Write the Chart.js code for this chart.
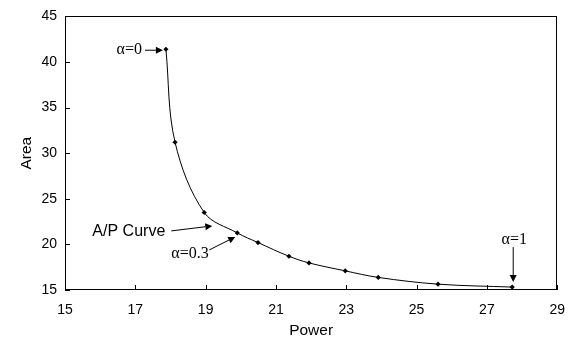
<!DOCTYPE html>
<html>
<head>
<meta charset="utf-8">
<script src="https://cdn.jsdelivr.net/npm/chart.js@4.4.1/dist/chart.umd.min.js"></script>
<style>
  html, body { margin: 0; padding: 0; background: #fff; }
  #box { width: 577px; height: 345px; }
</style>
</head>
<body>
<div id="box"><canvas id="grafico"></canvas></div>
<script>
// potenza e area per ogni valore di alpha
var potenza = [17.87, 18.13, 18.96, 19.9, 20.49, 21.37, 21.94, 22.97, 23.91, 25.61, 27.72];
var area = [41.4, 31.2, 23.5, 21.26, 20.2, 18.7, 17.97, 17.1, 16.38, 15.64, 15.32];

var tickX = [15, 17, 19, 21, 23, 25, 27, 29];
var tickY = [15, 20, 25, 30, 35, 40, 45];

var punti = [];
for (var i = 0; i < potenza.length; i++) {
    punti.push({ x: potenza[i], y: area[i] });
}

function freccia(ctx, x1, y1, x2, y2) {
    var ang = Math.atan2(y2 - y1, x2 - x1);
    var lung = 7, larg = 3.5;
    ctx.beginPath();
    ctx.moveTo(x1, y1);
    ctx.lineTo(x2 - Math.cos(ang) * lung, y2 - Math.sin(ang) * lung);
    ctx.stroke();
    ctx.beginPath();
    ctx.moveTo(x2, y2);
    ctx.lineTo(x2 - Math.cos(ang) * lung - Math.sin(ang) * larg, y2 - Math.sin(ang) * lung + Math.cos(ang) * larg);
    ctx.lineTo(x2 - Math.cos(ang) * lung + Math.sin(ang) * larg, y2 - Math.sin(ang) * lung - Math.cos(ang) * larg);
    ctx.closePath();
    ctx.fill();
}

// cornice, tacche interne e etichette con frecce
var decorazioni = {
    id: 'decorazioni',
    afterDraw: function (chart) {
        var ctx = chart.ctx;
        var a = chart.chartArea;
        var sx = chart.scales.x, sy = chart.scales.y;
        ctx.save();
        ctx.strokeStyle = '#000';
        ctx.fillStyle = '#000';
        ctx.lineWidth = 1;
        ctx.strokeRect(Math.round(a.left) + 0.5, Math.round(a.top) + 0.5,
            Math.round(a.right - a.left) - 1, Math.round(a.bottom - a.top) - 1);

        ctx.beginPath();
        tickX.forEach(function (v) {
            var px = Math.round(sx.getPixelForValue(v)) + 0.5;
            ctx.moveTo(px, a.bottom);
            ctx.lineTo(px, a.bottom - 5);
        });
        tickY.forEach(function (v) {
            var py = Math.round(sy.getPixelForValue(v)) + 0.5;
            ctx.moveTo(a.left, py);
            ctx.lineTo(a.left + 5, py);
        });
        ctx.stroke();

        var meta = chart.getDatasetMeta(0).data;
        var p0 = meta[0], p3 = meta[3], pN = meta[meta.length - 1];

        ctx.textBaseline = 'middle';
        ctx.font = '16px "Liberation Serif"';

        // alpha = 0
        ctx.textAlign = 'right';
        ctx.fillText('\u03B1=0', p0.x - 24, p0.y + 1);
        freccia(ctx, p0.x - 21, p0.y + 1, p0.x - 3, p0.y + 1);

        // alpha = 1
        ctx.textAlign = 'center';
        ctx.fillText('\u03B1=1', pN.x + 2, pN.y - 47);
        freccia(ctx, pN.x + 1, pN.y - 40, pN.x + 1, pN.y - 5);

        // alpha = 0.3
        ctx.textAlign = 'left';
        ctx.fillText('\u03B1=0.3', p3.x - 66, p3.y + 21);
        freccia(ctx, p3.x - 28, p3.y + 17, p3.x - 2, p3.y + 4);

        // curva A/P
        ctx.font = '16px "Liberation Sans"';
        ctx.textAlign = 'right';
        ctx.fillText('A/P Curve', p3.x - 72, p3.y - 1);
        freccia(ctx, p3.x - 66, p3.y - 2, p3.x - 25, p3.y - 7);

        ctx.restore();
    }
};

var ctx = document.getElementById('grafico');
var grafico = new Chart(ctx, {
    type: 'line',
    data: {
        datasets: [{
            label: 'A/P',
            data: punti,
            borderColor: '#000',
            backgroundColor: '#000',
            borderWidth: 1,
            tension: 0.35,
            pointStyle: 'rectRot',
            pointRadius: 2.6,
            pointBorderWidth: 0,
            pointBackgroundColor: '#000'
        }]
    },
    options: {
        responsive: true,
        maintainAspectRatio: false,
        animation: false,
        events: [],
        layout: { padding: { left: 0, top: 7, right: 19, bottom: 0 } },
        plugins: {
            legend: { display: false },
            tooltip: { enabled: false }
        },
        scales: {
            x: {
                type: 'linear',
                min: 15,
                max: 29,
                afterBuildTicks: function (s) { s.ticks = tickX.map(function (v) { return { value: v }; }); },
                afterFit: function (s) { s.height = 55; },
                grid: { display: false, drawTicks: false },
                border: { display: false },
                ticks: { color: '#000', padding: 12, maxRotation: 0, font: { family: 'Liberation Sans', size: 14 } },
                title: { display: true, text: 'Power', color: '#000', padding: { top: 0, bottom: 5 }, font: { family: 'Liberation Sans', size: 15.5 } }
            },
            y: {
                type: 'linear',
                min: 15,
                max: 45,
                afterBuildTicks: function (s) { s.ticks = tickY.map(function (v) { return { value: v }; }); },
                afterFit: function (s) { s.width = 65; },
                grid: { display: false, drawTicks: false },
                border: { display: false },
                ticks: { color: '#000', padding: 8, font: { family: 'Liberation Sans', size: 14 } },
                title: { display: true, text: 'Area', color: '#000', padding: { top: 17, bottom: 0 }, font: { family: 'Liberation Sans', size: 15.5 } }
            }
        }
    },
    plugins: [decorazioni]
});
</script>
</body>
</html>
